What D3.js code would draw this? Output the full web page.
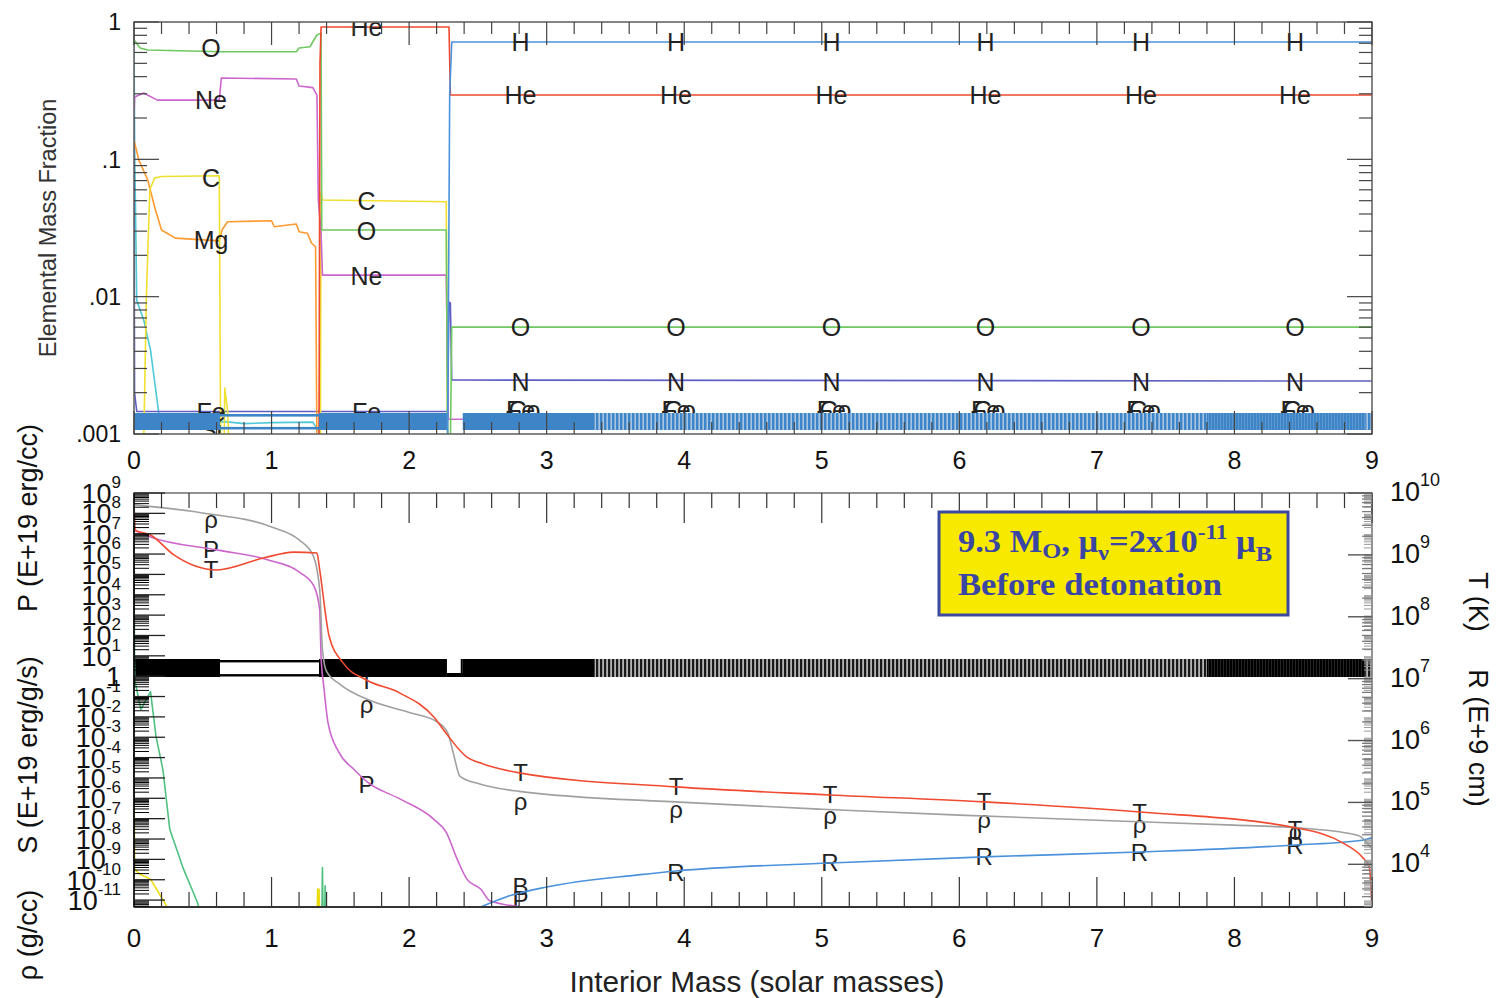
<!DOCTYPE html>
<html><head><meta charset="utf-8">
<script src="https://cdn.jsdelivr.net/npm/d3@7"></script>
<style>body{margin:0;background:#fff} svg text{font-family:"Liberation Sans",Arial,Helvetica,sans-serif}</style>
</head><body><svg id="c" width="1499" height="998"></svg>
<script>
// ---------------- DATA ----------------
const massTicks = [0,1,2,3,4,5,6,7,8,9];
const fracTicks = [1, 0.1, 0.01, 0.001];
const fracTickLabels = ["1", ".1", ".01", ".001"];
const leftExps = [9,8,7,6,5,4,3,2,1,0,-1,-2,-3,-4,-5,-6,-7,-8,-9,-10,-11];
const rightExps = [10,9,8,7,6,5,4];

// top panel: elemental mass fractions [mass, fraction]
const H_frac  = [[0,0.0008],[2.28,0.0008],[2.295,0.3],[2.31,0.715],[9,0.715]];
const He_frac = [[0,0.0008],[1.345,0.0008],[1.352,0.5],[1.36,0.92],[2.29,0.92],[2.30,0.294],[9,0.294]];
const O_frac  = [[0,0.74],[0.045,0.647],[0.1,0.625],[0.63,0.608],[1.18,0.608],[1.2,0.647],[1.28,0.66],[1.3,0.718],[1.33,0.804],[1.36,0.83],[1.365,0.0306],[2.27,0.0306],[2.28,0.0008],[2.3,0.0008],[2.31,0.006],[9,0.006]];
const Ne_frac = [[0,0.21],[0.005,0.284],[0.07,0.304],[0.17,0.27],[0.62,0.27],[0.635,0.391],[1.18,0.385],[1.2,0.342],[1.3,0.333],[1.33,0.294],[1.34,0.0506],[1.36,0.029],[1.37,0.01436],[2.27,0.01436],[2.285,0.00128],[9,0.00128]];
const C_frac  = [[0,0.0008],[0.07,0.0008],[0.09,0.01],[0.115,0.06],[0.15,0.073],[0.2,0.075],[0.62,0.076],[0.63,0.0008],[0.655,0.0008],[0.66,0.00216],[0.68,0.0015],[0.69,0.0008],[1.355,0.0008],[1.36,0.0578],[1.37,0.0506],[2.27,0.0491],[2.28,0.0008],[9,0.0008]];
const Mg_frac = [[0,0.138],[0.035,0.0988],[0.1,0.0707],[0.15,0.045],[0.2,0.0306],[0.3,0.0267],[0.62,0.0255],[0.64,0.0306],[0.68,0.0351],[1.0,0.0357],[1.02,0.0323],[1.18,0.0338],[1.2,0.0297],[1.26,0.029],[1.29,0.0246],[1.32,0.0231],[1.33,0.0008],[1.345,0.0008],[1.35,0.0023],[1.355,0.0008],[9,0.0008]];
const Si_frac = [[0,0.74],[0.005,0.117],[0.02,0.0094],[0.07,0.0068],[0.12,0.0041],[0.18,0.00142],[0.25,0.0012],[0.66,0.00123],[0.8,0.00119],[1.0,0.00121],[1.3,0.00122],[1.35,0.00102],[1.36,0.0008],[9,0.0008]];
const N_frac  = [[0,0.2],[0.004,0.002],[0.02,0.00146],[2.28,0.00146],[2.29,0.00913],[2.3,0.009],[2.31,0.00247],[9,0.00243]];

const topLabels = [
  ["O",0.56,0.647],["Ne",0.56,0.27],["C",0.56,0.073],["Mg",0.56,0.0258],["Fe",0.56,0.00144],["Si",0.56,0.00107],
  ["He",1.69,0.92],["C",1.69,0.0497],["O",1.69,0.030],["Ne",1.69,0.0141],["Fe",1.69,0.00144]
];
const envLabelMass = [2.81,3.94,5.07,6.19,7.32,8.44];
const envLabels = [["H",0.715],["He",0.294],["O",0.006],["N",0.00239],["Fe",0.0015],["Co",0.0015],["Ne",0.00126]];

// bottom panel: left-axis quantities (rho g/cc, P, S), right-axis quantities (T K, R E+9 cm)
const rho = [[0,2.6e8],[0.5,1.05e8],[1.0,2.15e7],[1.2,5.0e6],[1.3,9.1e5],[1.35,1.8e4],[1.37,20],[1.4,1.7],[1.5,0.39],[1.7,0.071],[2.0,0.0166],[2.2,5.9e-3],[2.28,1.7e-3],[2.32,1.8e-4],[2.37,1.2e-5],[2.52,4.9e-6],[2.8,2.2e-6],[4,6.3e-7],[5,2.9e-7],[6,1.5e-7],[7,8.3e-8],[8,4.8e-8],[8.5,3.4e-8],[8.9,1.5e-8],[9.0,3.2e-9]];
const P = [[0,1.5e7],[0.12,6.9e6],[0.6,1.6e6],[0.97,5.3e5],[1.21,1.2e5],[1.31,2.5e4],[1.35,1.8e3],[1.36,9.1],[1.38,0.31],[1.41,5.4e-3],[1.49,1.8e-4],[1.6,2.6e-5],[1.7,6.0e-6],[1.94,8.9e-7],[2.18,9.3e-8],[2.27,2.1e-8],[2.35,1.0e-9],[2.42,1.07e-10],[2.52,3.5e-11],[2.59,8.9e-12],[2.83,4.6e-12]];
const S_nuc = [[0,5.2e5],[0.005,0.68],[0.05,0.023],[0.12,0.176],[0.16,1.1e-3],[0.21,2.6e-5],[0.26,3.0e-8],[0.36,3.3e-10],[0.46,8e-12],[0.5,1e-12],[1.365,1e-12],[1.37,4e-10],[1.375,1e-12],[1.385,1e-12],[1.39,5e-11],[1.395,1e-12],[9,1e-12]];
const S_nu  = [[0,2.6e-5],[0.005,3.3e-10],[0.04,1.9e-10],[0.12,1.07e-10],[0.22,7.9e-12],[0.3,1e-12],[1.33,1e-12],[1.335,3.5e-11],[1.34,1e-12],[1.345,3.5e-11],[1.35,1e-12],[9,1e-12]];
const T = [[0,7.2e9],[0.01,2.5e9],[0.12,2.1e9],[0.29,1.0e9],[0.6,5.7e8],[0.94,8.9e8],[1.16,1.11e9],[1.33,1.07e9],[1.35,5.7e8],[1.42,4.7e7],[1.52,1.8e7],[1.69,9.5e6],[1.93,5.9e6],[2.18,2.4e6],[2.27,1.3e6],[2.42,5.4e5],[2.51,4.4e5],[2.8,3.0e5],[3.94,1.78e5],[5.06,1.32e5],[6.18,1.02e5],[7.31,7.0e4],[8.44,3.9e4],[8.79,2.2e4],[8.93,1.3e4],[8.98,9.1e3],[9.0,2.0e3]];
const R = [[2.51,2.0e3],[2.71,3.0e3],[3.0,4.3e3],[3.68,6.8e3],[3.94,7.8e3],[5.06,1.05e4],[6.18,1.32e4],[7.31,1.58e4],[8.44,2.05e4],[8.93,2.45e4],[9.0,2.7e4]];

const botLabelsLeft = [["ρ",0.56,4.8e7],["P",0.56,1.6e6],["ρ",1.69,0.041],["P",1.69,4.9e-6],
  ["ρ",2.81,7.1e-7],["B",2.81,4.4e-11],["P",2.81,1.1e-11],["ρ",3.94,2.9e-7],["ρ",5.06,1.5e-7],["ρ",6.18,9.3e-8],["ρ",7.31,5.4e-8],["ρ",8.44,2.4e-8]];
const botLabelsRight = [["T",0.56,5.7e8],["T",1.69,9.5e6],["T",2.81,3.0e5],["T",3.94,1.78e5],["T",5.06,1.32e5],["T",6.18,1.02e5],["T",7.31,7.0e4],["T",8.44,3.6e4],
  ["R",3.94,7.5e3],["R",5.06,1.05e4],["R",6.18,1.32e4],["R",7.31,1.58e4],["R",8.44,2.05e4]];

// mesh-zone density bands [from, to, kind]
const zoneBands = [[0,0.625,"solid"],[0.625,1.345,"hollow"],[1.345,2.275,"solid"],[2.275,2.39,"gap"],[2.39,3.35,"solid"],[3.35,7.8,"striped"],[7.8,8.95,"dense"],[8.95,9,"striped"]];

// ---------------- DRAW ----------------
const svg = d3.select("#c");
const defs = svg.append("defs");
const x = d3.scaleLinear().domain([0,9]).range([134,1372]);
const yTop = d3.scaleLog().domain([0.001,1]).range([434,22]);
const yL = d3.scaleLog().domain([Math.pow(10,-11.34),1e9]).range([907,493]);
const yR = d3.scaleLog().domain([Math.pow(10,3.31),1e10]).range([907,493]);
const X0 = x.range()[0], X1 = x.range()[1];

function clip(id, y0, y1){
  defs.append("clipPath").attr("id",id).append("rect").attr("x",X0).attr("y",y0).attr("width",X1-X0).attr("height",y1-y0);
}
clip("clipTop",22,434); clip("clipBot",493,907);

function pattern(id,w,dw,light,dark){
  const p = defs.append("pattern").attr("id",id).attr("patternUnits","userSpaceOnUse").attr("width",w).attr("height",40);
  p.append("rect").attr("width",w).attr("height",40).attr("fill",light);
  p.append("rect").attr("width",dw).attr("height",40).attr("fill",dark);
}
pattern("topStripe",4,2.4,"#a7c6e6","#3d85c6");
pattern("topDense",3,2.5,"#7aa9d8","#3d85c6");
pattern("botStripe",4,2.2,"#b4b4b4","#1a1a1a");
pattern("botDense",3,2.6,"#555","#000");

const gTop = svg.append("g").attr("clip-path","url(#clipTop)");
const gBot = svg.append("g").attr("clip-path","url(#clipBot)");

function drawLine(g, data, ys, color, smooth){
  const lo = ys.domain()[0];
  const gen = d3.line().x(d=>x(d[0])).y(d=>ys(Math.max(d[1], lo/10)));
  if(smooth) gen.curve(d3.curveMonotoneX);
  g.append("path").datum(data).attr("fill","none").attr("stroke",color).attr("stroke-width",1.6)
    .attr("stroke-linejoin","round").attr("d", gen);
}

// top panel lines
[[Si_frac,"#4fc8d8"],[N_frac,"#5f5fc4"],[Mg_frac,"#ff9a30"],[C_frac,"#f0e030"],[Ne_frac,"#cc66cc"],[O_frac,"#70c860"],[He_frac,"#f04a30"],[H_frac,"#4a92dc"]]
  .forEach(([d,c])=>drawLine(gTop,d,yTop,c,false));

// top labels (drawn under band)
const lblStyle = sel => sel.attr("text-anchor","middle").attr("dominant-baseline","central").attr("font-size",25).attr("fill","#222");
topLabels.forEach(([t,m,v])=> gTop.append("text").attr("x",x(m)).attr("y",yTop(v)).text(t).call(lblStyle));
envLabelMass.forEach(m=> envLabels.forEach(([t,v])=> gTop.append("text").attr("x",x(m)+(t==="Co"?4:0)).attr("y",yTop(v)).text(t).call(lblStyle)));

// bands
function drawBand(g, y0, y1, fills, hollowColor, hollowW){
  zoneBands.forEach(([a,b,k])=>{
    const xa=x(a), xb=x(b);
    if(k==="solid"||k==="striped"||k==="dense"){
      g.append("rect").attr("x",xa).attr("y",y0).attr("width",xb-xa).attr("height",y1-y0).attr("fill",fills[k]);
    } else if(k==="hollow"){
      g.append("rect").attr("x",xa).attr("y",y0+1).attr("width",xb-xa).attr("height",hollowW).attr("fill",hollowColor);
      g.append("rect").attr("x",xa).attr("y",y1-hollowW-0.5).attr("width",xb-xa).attr("height",hollowW).attr("fill",hollowColor);
    } else if(k==="gap" && fills.gap){
      g.append("rect").attr("x",xa).attr("y",y1-4).attr("width",xb-xa).attr("height",4).attr("fill",fills.gap);
      g.append("rect").attr("x",xb-2).attr("y",y0).attr("width",2).attr("height",y1-y0).attr("fill",fills.gap);
    }
  });
}
drawBand(gTop, 413, 430, {solid:"#3d85c6",striped:"url(#topStripe)",dense:"url(#topDense)"}, "#3d85c6", 2.6);

// bottom panel
botLabelsLeft.forEach(([t,m,v])=> gBot.append("text").attr("x",x(m)).attr("y",yL(v)).text(t).call(lblStyle).attr("font-size",24));
botLabelsRight.forEach(([t,m,v])=> gBot.append("text").attr("x",x(m)).attr("y",yR(v)).text(t).call(lblStyle).attr("font-size",24));
drawBand(gBot, 659, 677, {solid:"#000",striped:"url(#botStripe)",dense:"url(#botDense)",gap:"#000"}, "#000", 2.4);
drawLine(gBot,S_nu,yL,"#ecdc10",false);
drawLine(gBot,S_nuc,yL,"#50c080",false);
drawLine(gBot,P,yL,"#cc66cc",true);
drawLine(gBot,rho,yL,"#a0a0a0",true);
drawLine(gBot,R,yR,"#4a92dc",true);
drawLine(gBot,T,yR,"#f04a30",true);

// ---------- axes / frames ----------
const ax = svg.append("g");
function tick(x1,y1,x2,y2,c,w){ ax.append("line").attr("x1",x1).attr("y1",y1).attr("x2",x2).attr("y2",y2).attr("stroke",c).attr("stroke-width",w||1.2); }
const minorMass = d3.range(0,46).map(i=>i*0.2);

// top panel frame
ax.append("rect").attr("x",X0).attr("y",22).attr("width",X1-X0).attr("height",412).attr("fill","none").attr("stroke","#666").attr("stroke-width",1.6);
minorMass.forEach(m=>{
  const isMaj = Math.abs(m-Math.round(m))<1e-6;
  const L = isMaj?23:12;
  tick(x(m),22,x(m),22+L,"#444");
  tick(x(m),434,x(m),434-L,"#444");
});
for(let e=-3;e<0;e++) for(let k=2;k<10;k++){
  const v=k*Math.pow(10,e); const yy=yTop(v);
  tick(X0,yy,X0+13,yy,"#444"); tick(X1,yy,X1-13,yy,"#444");
}
fracTicks.forEach(v=>{ tick(X0,yTop(v),X0+25,yTop(v),"#444"); tick(X1,yTop(v),X1-25,yTop(v),"#444"); });
fracTicks.forEach((v,i)=> ax.append("text").attr("x",121).attr("y",yTop(v)).attr("dy","0.36em").attr("text-anchor","end").attr("font-size",23).attr("fill","#111").text(fracTickLabels[i]));
massTicks.forEach(m=> ax.append("text").attr("x",x(m)).attr("y",460).attr("dy","0.36em").attr("text-anchor","middle").attr("font-size",25).attr("fill","#111").text(m));
ax.append("text").attr("transform","translate(48,228) rotate(-90)").attr("text-anchor","middle").attr("dominant-baseline","central").attr("font-size",23.5).attr("fill","#333").text("Elemental Mass Fraction");

// bottom panel frame
ax.append("rect").attr("x",X0).attr("y",493).attr("width",X1-X0).attr("height",414).attr("fill","none").attr("stroke","#777").attr("stroke-width",1.6);
tick(X0,493,X0,907,"#111",1.8); tick(X0,907,X1,907,"#333",1.8);
minorMass.forEach(m=>{
  const isMaj = Math.abs(m-Math.round(m))<1e-6;
  const L = isMaj?30:15;
  tick(x(m),493,x(m),493+L,"#333");
  tick(x(m),907,x(m),907-L,"#333");
});
// left P/S/rho axis ticks
for(let e=-12;e<9;e++) for(let k=2;k<10;k++){
  const v=k*Math.pow(10,e); if(v<yL.domain()[0]||v>yL.domain()[1]) continue;
  const yy=yL(v); tick(X0,yy,X0+15,yy,"#000",1); tick(X1,yy,X1-8,yy,"#999",1);
}
leftExps.forEach(e=>{ const yy=yL(Math.pow(10,e)); tick(X0,yy,X0+31,yy,"#222",1.3); });
// right T/R axis ticks
for(let e=3;e<10;e++) for(let k=2;k<10;k++){
  const v=k*Math.pow(10,e); if(v<yR.domain()[0]||v>yR.domain()[1]) continue;
  const yy=yR(v); tick(X1,yy,X1-10,yy,"#777",1.2);
}
rightExps.forEach(e=>{ const yy=yR(Math.pow(10,e)); tick(X1,yy,X1-24,yy,"#555",1.4); });

// left labels 10^n
leftExps.forEach(e=>{
  const yy=yL(Math.pow(10,e));
  const t=ax.append("text").attr("x",121).attr("y",yy+10).attr("text-anchor","end").attr("font-size",27).attr("fill","#111");
  if(e===0){ t.text("1"); return; }
  t.append("tspan").text("10");
  t.append("tspan").attr("dy",-15).attr("font-size",17).text(e);
});
// right labels
rightExps.forEach(e=>{
  const yy=yR(Math.pow(10,e));
  const t=ax.append("text").attr("x",1390).attr("y",yy+8).attr("font-size",27).attr("fill","#111");
  t.append("tspan").text("10");
  t.append("tspan").attr("dy",-15).attr("font-size",18).text(e);
});
massTicks.forEach(m=> ax.append("text").attr("x",x(m)).attr("y",938).attr("dy","0.36em").attr("text-anchor","middle").attr("font-size",26).attr("fill","#111").text(m));
ax.append("text").attr("x",757).attr("y",982).attr("dy","0.36em").attr("text-anchor","middle").attr("font-size",29).attr("fill","#222")
  .attr("textLength",375).attr("lengthAdjust","spacingAndGlyphs").text("Interior Mass (solar masses)");
[["P (E+19 erg/cc)",518],["S (E+19 erg/g/s)",755],["ρ (g/cc)",935]].forEach(([t,c])=>
  ax.append("text").attr("transform",`translate(28,${c}) rotate(-90)`).attr("text-anchor","middle").attr("dominant-baseline","central").attr("font-size",27).attr("fill","#111").text(t));
[["T (K)",602],["R (E+9 cm)",738]].forEach(([t,c])=>
  ax.append("text").attr("transform",`translate(1478,${c}) rotate(90)`).attr("text-anchor","middle").attr("dominant-baseline","central").attr("font-size",27).attr("fill","#111").text(t));

// annotation box
const serif = "'Liberation Serif','Times New Roman',Times,serif";
const box = svg.append("g");
box.append("rect").attr("x",939).attr("y",512).attr("width",349).attr("height",103).attr("fill","#f7ea00").attr("stroke","#3b4aa0").attr("stroke-width",3);
const bt = box.append("text").attr("x",958).attr("y",552).style("font-family",serif).attr("font-weight","bold").attr("font-size",31).attr("fill","#3b46a4")
  .attr("textLength",314).attr("lengthAdjust","spacingAndGlyphs");
bt.append("tspan").text("9.3 M");
bt.append("tspan").attr("dy",6).attr("font-size",22).text("O");
bt.append("tspan").attr("dy",-6).text(", μ");
bt.append("tspan").attr("dy",8).attr("font-size",22).text("ν");
bt.append("tspan").attr("dy",-8).text("=2x10");
bt.append("tspan").attr("dy",-13).attr("font-size",21).text("-11");
bt.append("tspan").attr("dy",13).text(" μ");
bt.append("tspan").attr("dy",9).attr("font-size",22).text("B");
box.append("text").attr("x",958).attr("y",595).style("font-family",serif).attr("font-weight","bold").attr("font-size",31).attr("fill","#3b46a4")
  .attr("textLength",264).attr("lengthAdjust","spacingAndGlyphs").text("Before detonation");
</script></body></html>
